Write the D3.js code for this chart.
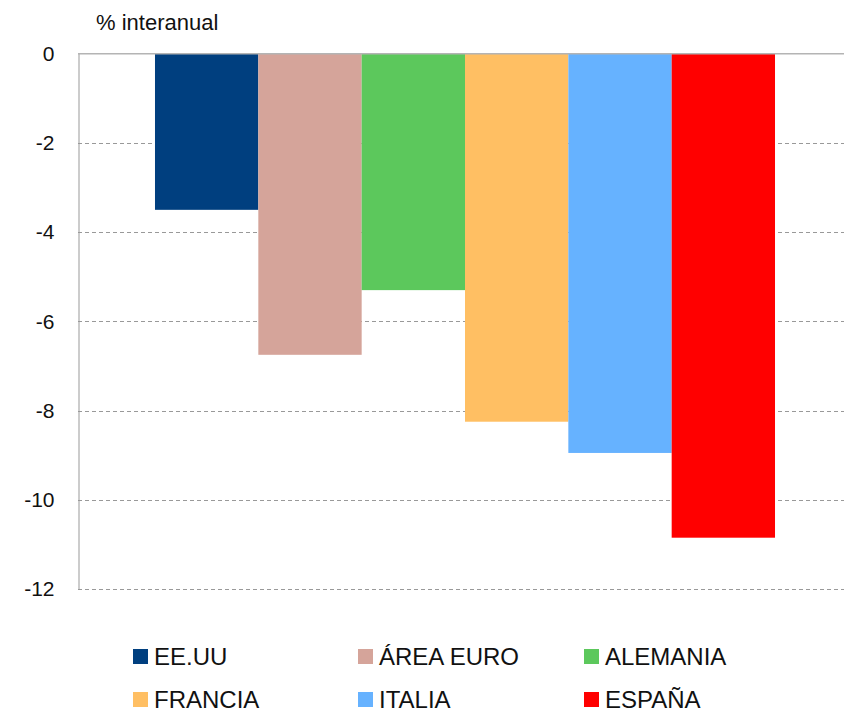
<!DOCTYPE html>
<html>
<head>
<meta charset="utf-8">
<script src="https://cdn.jsdelivr.net/npm/d3@7"></script>
<style>
body { margin: 0; background: #fff; }
text { font-family: "Liberation Sans", Arial, sans-serif; fill: #111; }
</style>
</head>
<body>
<div id="chart"></div>
<script>
// caida interanual por pais
var paises = ["EE.UU", "ÁREA EURO", "ALEMANIA", "FRANCIA", "ITALIA", "ESPAÑA"];
var valores = [-3.5, -6.75, -5.3, -8.25, -8.95, -10.85];
var colores = ["#003f7f", "#d5a49a", "#5cc85c", "#ffbf63", "#66b2ff", "#ff0000"];
var yTicks = [0, -2, -4, -6, -8, -10, -12];

var W = 844, H = 714;

var svg = d3.select("#chart").append("svg")
	.attr("width", W)
	.attr("height", H);

var y = d3.scaleLinear()
	.domain([0, -12])
	.range([53.7, 589]);

var x = d3.scaleBand()
	.domain(paises)
	.range([78, 852])
	.paddingInner(0)
	.paddingOuter(0.745);

//grid
svg.append("g").selectAll("line")
	.data(yTicks.filter(function(d){ return d != 0; }))
	.enter().append("line")
		.attr("x1", 78)
		.attr("x2", W)
		.attr("y1", function(d){ return Math.round(y(d)) + 0.5; })
		.attr("y2", function(d){ return Math.round(y(d)) + 0.5; })
		.attr("stroke", "#999")
		.attr("stroke-width", 1)
		.attr("stroke-dasharray", "4,3");

//bars
svg.selectAll(".bar")
	.data(valores)
	.enter().append("rect")
		.attr("class", "bar")
		.attr("fill", function(d, i){ return colores[i]; })
		.attr("x", function(d, i){ return x(paises[i]); })
		.attr("width", x.bandwidth())
		.attr("y", y(0))
		.attr("height", function(d){ return y(d) - y(0); });

//zero line
svg.append("line")
	.attr("x1", 78)
	.attr("x2", W)
	.attr("y1", y(0))
	.attr("y2", y(0))
	.attr("stroke", "#b4b4b4")
	.attr("stroke-width", 1.5);

//y axis
var yAxis = d3.axisLeft(y)
	.tickValues(yTicks)
	.tickSize(0)
	.tickPadding(24)
	.tickFormat(function(d){ return String(d); });
var gy = svg.append("g")
	.attr("transform", "translate(78.5,0)")
	.call(yAxis);
gy.select(".domain").attr("stroke", "#999").attr("stroke-width", 1);
gy.selectAll("text")
	.style("font-size", "21px")
	.style("font-family", "Liberation Sans, Arial, sans-serif")
	.attr("fill", "#111");

svg.append("text")
	.attr("x", 96)
	.attr("y", 30)
	.style("font-size", "22px")
	.text("% interanual");

//legend
var legendX = [133, 358, 584];
var legendY = [649, 692];
var leg = svg.append("g").selectAll("g")
	.data(paises)
	.enter().append("g")
		.attr("transform", function(d, i){
			return "translate(" + legendX[i % 3] + "," + legendY[Math.floor(i / 3)] + ")";
		});
leg.append("rect")
	.attr("width", 15)
	.attr("height", 15)
	.attr("fill", function(d, i){ return colores[i]; });
leg.append("text")
	.attr("x", 21)
	.attr("y", 16)
	.style("font-size", "24px")
	.text(function(d){ return d; });
</script>
</body>
</html>
